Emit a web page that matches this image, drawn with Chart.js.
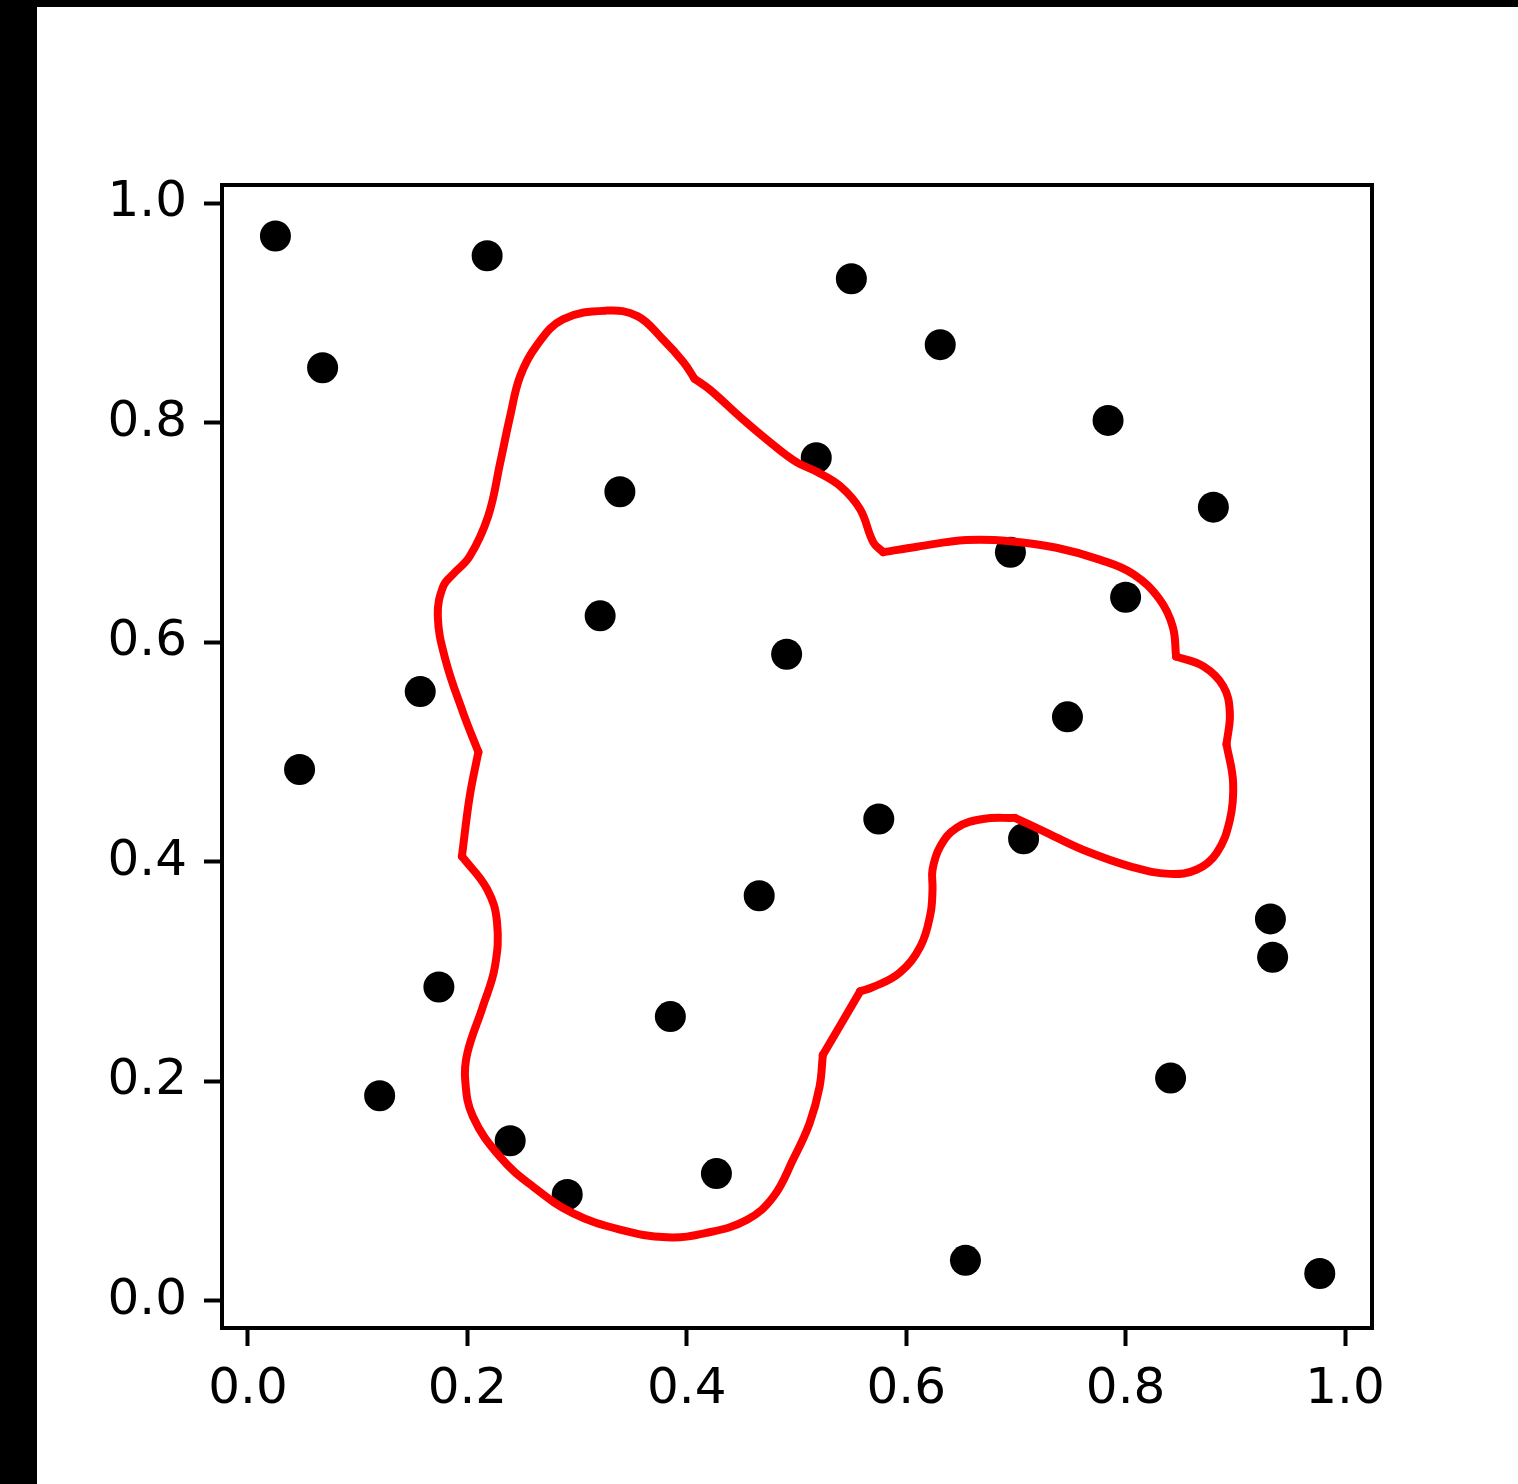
<!DOCTYPE html>
<html>
<head>
<meta charset="utf-8">
<script src="https://cdn.jsdelivr.net/npm/chart.js@4/dist/chart.umd.min.js"></script>
<style>
  html, body { margin: 0; padding: 0; background: #000; }
  #wrap { position: absolute; left: 37px; top: 7px; width: 1481px; height: 1477px; background: #fff; }
</style>
</head>
<body>
<div id="wrap"><canvas id="myChart"></canvas></div>
<script>
// scattered sample points
const puntosX = [0.025, 0.218, 0.068, 0.550, 0.631, 0.784, 0.518, 0.339, 0.880, 0.695,
                 0.800, 0.321, 0.491, 0.157, 0.747, 0.047, 0.575, 0.707, 0.466, 0.932,
                 0.934, 0.174, 0.385, 0.120, 0.841, 0.239, 0.291, 0.427, 0.654, 0.977];
const puntosY = [0.970, 0.952, 0.850, 0.931, 0.871, 0.802, 0.768, 0.737, 0.723, 0.682,
                 0.641, 0.624, 0.589, 0.555, 0.532, 0.484, 0.439, 0.421, 0.369, 0.348,
                 0.313, 0.286, 0.259, 0.187, 0.203, 0.146, 0.097, 0.116, 0.037, 0.025];

// closed contour, walked from the left side going up
const contornoX = [0.210, 0.196, 0.180, 0.173, 0.178, 0.187, 0.202, 0.219, 0.230, 0.239,
                   0.248, 0.263, 0.287, 0.327, 0.355, 0.378, 0.397, 0.407, 0.421, 0.451,
                   0.476, 0.500, 0.519, 0.540, 0.558, 0.570, 0.579, 0.610, 0.655, 0.695,
                   0.737, 0.777, 0.807, 0.831, 0.843, 0.846, 0.871, 0.889, 0.895, 0.892,
                   0.898, 0.895, 0.883, 0.865, 0.840, 0.807, 0.761, 0.725, 0.699, 0.670,
                   0.646, 0.631, 0.624, 0.624, 0.622, 0.613, 0.594, 0.570, 0.558, 0.524,
                   0.521, 0.512, 0.497, 0.479, 0.455, 0.418, 0.382, 0.339, 0.296, 0.260,
                   0.230, 0.205, 0.198, 0.200, 0.214, 0.225, 0.227, 0.218, 0.195, 0.202,
                   0.210];
const contornoY = [0.500, 0.536, 0.584, 0.624, 0.651, 0.662, 0.678, 0.715, 0.764, 0.806,
                   0.842, 0.870, 0.894, 0.902, 0.897, 0.876, 0.855, 0.840, 0.830, 0.803,
                   0.782, 0.764, 0.755, 0.742, 0.721, 0.691, 0.682, 0.687, 0.693, 0.692,
                   0.686, 0.675, 0.662, 0.639, 0.614, 0.587, 0.578, 0.560, 0.536, 0.507,
                   0.472, 0.438, 0.408, 0.393, 0.389, 0.395, 0.411, 0.428, 0.440, 0.439,
                   0.431, 0.414, 0.393, 0.375, 0.352, 0.323, 0.299, 0.286, 0.282, 0.224,
                   0.195, 0.162, 0.129, 0.095, 0.074, 0.062, 0.058, 0.065, 0.080, 0.104,
                   0.131, 0.168, 0.201, 0.226, 0.268, 0.304, 0.345, 0.375, 0.405, 0.459,
                   0.500];
// corners of the contour (smooth pieces go between them)
const esquinas = [0, 17, 26, 35, 39, 48, 58, 59, 78, 80];

const marcas = [0.0, 0.2, 0.4, 0.6, 0.8, 1.0];

const puntos = puntosX.map((x, i) => ({ x: x, y: puntosY[i] }));

const tramos = [];
for (let k = 0; k < esquinas.length - 1; k++) {
  const datos = [];
  for (let i = esquinas[k]; i <= esquinas[k + 1]; i++) {
    datos.push({ x: contornoX[i], y: contornoY[i] });
  }
  tramos.push({
    data: datos,
    showLine: true,
    borderColor: '#ff0000',
    borderWidth: 8,
    pointRadius: 0,
    tension: 0.4,
    borderCapStyle: 'round',
    borderJoinStyle: 'round',
    order: 0
  });
}

// box around the plot area
const marco = {
  id: 'marco',
  afterDatasetsDraw(chart) {
    const a = chart.chartArea;
    const c = chart.ctx;
    c.save();
    c.strokeStyle = '#000';
    c.lineWidth = 4;
    c.strokeRect(a.left, a.top, a.right - a.left, a.bottom - a.top);
    c.restore();
  }
};

const fijarMarcas = (scale) => {
  scale.ticks = marcas.map(v => ({ value: v }));
};

const ejeComun = {
  type: 'linear',
  afterBuildTicks: fijarMarcas,
  border: { display: false },
  grid: {
    display: true,
    drawOnChartArea: false,
    drawTicks: true,
    tickLength: 18,
    tickWidth: 4,
    tickColor: '#000'
  },
  ticks: {
    color: '#000',
    padding: 14,
    font: { family: 'DejaVu Sans', size: 50 },
    callback: (v) => Number(v).toFixed(1)
  }
};

const ctx = document.getElementById('myChart');
new Chart(ctx, {
  type: 'scatter',
  data: {
    datasets: [
      {
        data: puntos,
        backgroundColor: '#000',
        borderWidth: 0,
        pointRadius: 15.5,
        pointHoverRadius: 15.5,
        order: 1
      }
    ].concat(tramos)
  },
  options: {
    responsive: true,
    maintainAspectRatio: false,
    animation: false,
    events: [],
    layout: { padding: { top: 178, right: 146, left: 0, bottom: 0 } },
    plugins: {
      legend: { display: false },
      tooltip: { enabled: false }
    },
    scales: {
      x: Object.assign({}, ejeComun, {
        min: -0.0237,
        max: 1.0246,
        afterFit: (s) => { s.height = 156; }
      }),
      y: Object.assign({}, ejeComun, {
        min: -0.0246,
        max: 1.0164,
        ticks: Object.assign({}, ejeComun.ticks, { padding: 17 }),
        afterFit: (s) => { s.width = 185; }
      })
    }
  },
  plugins: [marco]
});
</script>
</body>
</html>
